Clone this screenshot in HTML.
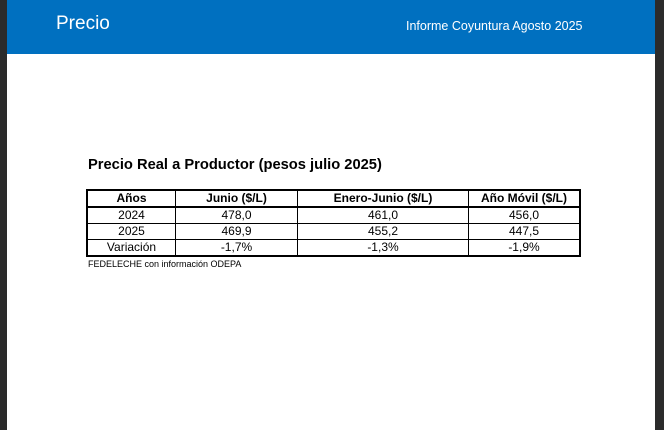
<!DOCTYPE html>
<html><head><style>
body{margin:0;width:664px;height:430px;background:#2b2b2b;position:relative;overflow:hidden;font-family:"Liberation Sans",sans-serif}
.page{position:absolute;left:7px;top:0;width:648px;height:430px;background:#fff}
.bar{position:absolute;left:0;top:0;width:648px;height:54px;background:#0070c0}
.t1{position:absolute;left:49px;top:13px;color:#fff;font-size:19px}
.t2{position:absolute;left:399px;top:19px;color:#fff;font-size:12.5px}
.title{position:absolute;left:81px;top:157px;font-size:14.7px;font-weight:bold;color:#000}
table{position:absolute;left:79px;top:189px;border-collapse:collapse;border:2px solid #000;font-size:12px}
td{border:1px solid #000;text-align:center;height:15px;padding:0;line-height:15px}
tr.h td{font-weight:bold;border-bottom:2px solid #000}
.src{position:absolute;left:81px;top:259px;font-size:9px}
</style></head><body><div class="page">
<div class="bar"><div class="t1">Precio</div><div class="t2">Informe Coyuntura Agosto 2025</div></div>
<div class="title">Precio Real a Productor (pesos julio 2025)</div>
<table>
<tr class="h"><td style="width:87px">Años</td><td style="width:121px">Junio ($/L)</td><td style="width:170px">Enero-Junio ($/L)</td><td style="width:110px">Año Móvil ($/L)</td></tr>
<tr><td>2024</td><td>478,0</td><td>461,0</td><td>456,0</td></tr>
<tr><td>2025</td><td>469,9</td><td>455,2</td><td>447,5</td></tr>
<tr><td>Variación</td><td>-1,7%</td><td>-1,3%</td><td>-1,9%</td></tr>
</table>
<div class="src">FEDELECHE con información ODEPA</div>
</div></body></html>
